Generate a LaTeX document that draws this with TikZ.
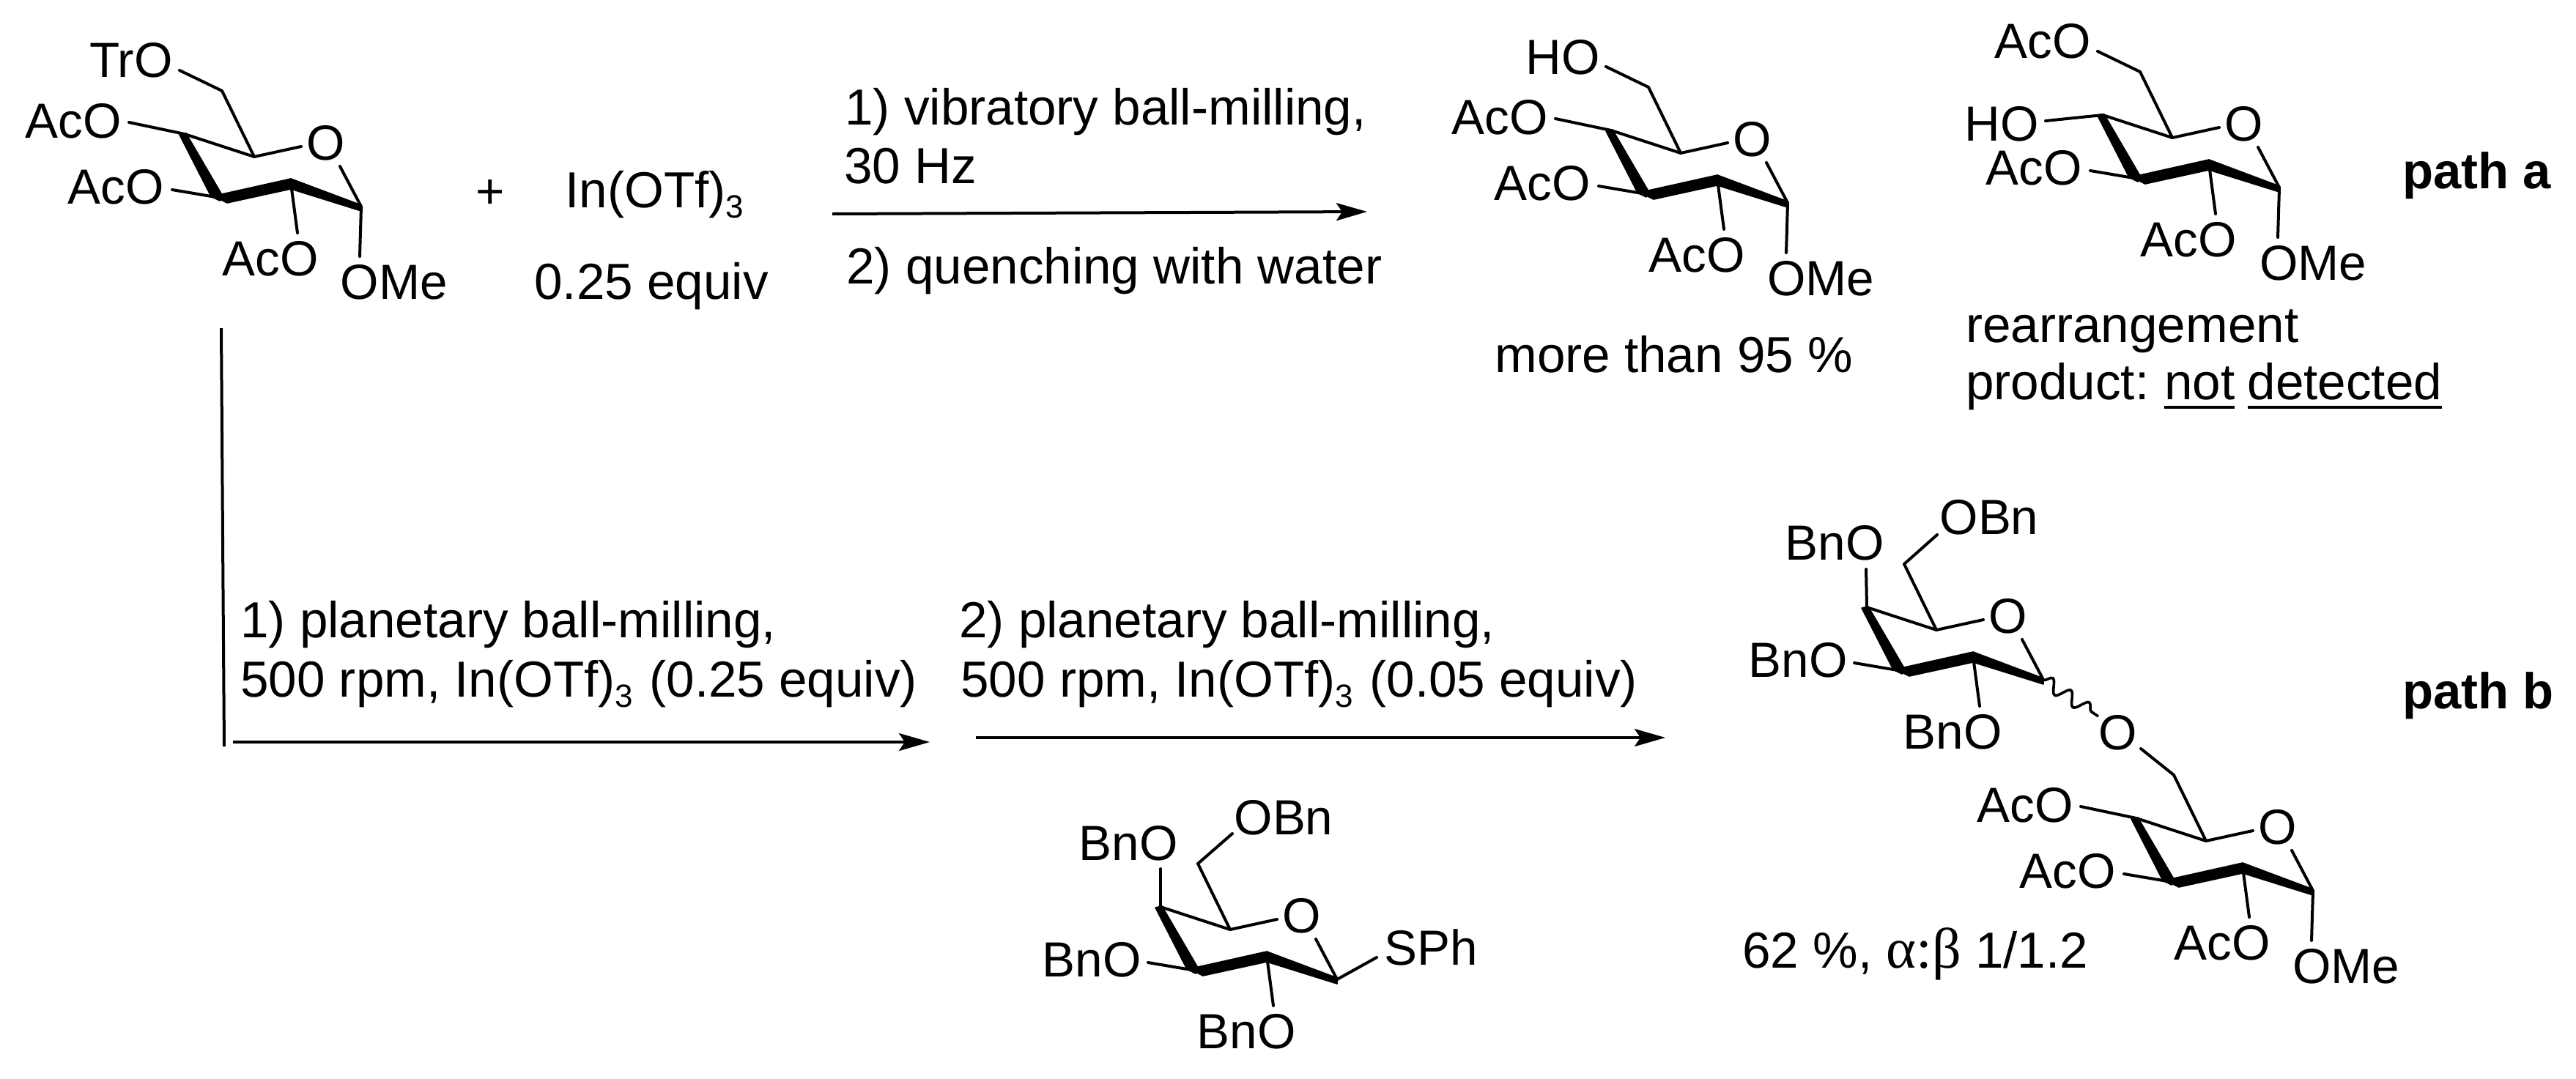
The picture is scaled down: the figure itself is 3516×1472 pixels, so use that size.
\documentclass[tikz,border=0pt]{standalone}
\usepackage{fontspec}
\setmainfont{Liberation Sans}
\newfontfamily\grkfont{Liberation Serif}
\usetikzlibrary{arrows.meta,decorations.pathmorphing}
\newcommand\subthree{\lower7pt\hbox{\fontsize{22}{24}\selectfont 3}\kern1.5pt}
\newcommand\ulw[1]{\vtop{\hbox{#1}\kern4pt\hrule height 2pt}}
\tikzset{
  bond/.style={line width=2pt,line cap=round,line join=round,black},
  band/.style={fill=black,draw=black,line width=0.8pt,line join=round},
  atom/.style={inner sep=0pt,font=\fontsize{33.7}{40}\selectfont},
  txt/.style={anchor=base west,inner sep=0pt,font=\fontsize{34.6}{40}\selectfont},
  btxt/.style={txt,font=\fontsize{34.4}{40}\selectfont\bfseries},
  rxn/.style={line width=2pt,-{Stealth[length=21pt,width=12pt,inset=4pt]}},
  wavy/.style={line width=1.8pt,decorate,decoration={snake,segment length=15pt,amplitude=4.5pt}}
}
% prefix, dx, dy, label at C3, label at C2
\newcommand\sugar[5]{%
  \begin{scope}[shift={(#2,#3)}]
    \coordinate (#1C6) at (303,124);
    \coordinate (#1C5) at (347,214);
    \coordinate (#1Oa) at (411,200);
    \coordinate (#1Ob) at (464,227);
    \coordinate (#1C1) at (493,282);
    \coordinate (#1C2) at (397,250);
    \coordinate (#1C3) at (300,270);
    \coordinate (#1C4) at (252,183);
    \coordinate (#1e6) at (245,96);
    \coordinate (#1e4) at (176,167);
    \coordinate (#1e3) at (235,259);
    \coordinate (#1e2) at (406,318);
    \coordinate (#1e1) at (491,350);
    \node[atom] (#1O) at (445,195) {O};
    \node[atom] (#1L3) at (158,255) {#4};
    \node[atom] (#1L2) at (369,353) {#5};
    \fill[band] (245,184) -- (254,182) -- (303,266) -- (300,274) -- (288,268) -- cycle;
    \fill[band] (303,265) -- (397,244) -- (397,258) -- (310,277) -- (300,272) -- cycle;
    \fill[band] (397,244) -- (493,280) -- (493,288) -- (397,258) -- cycle;
    \draw[bond] (#1C4) -- (#1C5) -- (#1Oa);
    \draw[bond] (#1C5) -- (#1C6);
    \draw[bond] (#1Ob) -- (#1C1);
    \draw[bond] (#1C3) -- (#1e3);
    \draw[bond] (#1C2) -- (#1e2);
  \end{scope}}
\begin{document}
\begin{tikzpicture}[x=0.5pt,y=-0.5pt]
\useasboundingbox (0,0) rectangle (3516,1472);
\fill[white] (0,0) rectangle (3516,1472);

% starting material
\sugar{a}{0}{0}{AcO}{AcO}
\node[atom] (aL6) at (179,82) {TrO};
\node[atom] (aL4) at (100,165) {AcO};
\node[atom] (aL1) at (538,385) {OMe};
\draw[bond] (aC6) -- (ae6);
\draw[bond] (aC4) -- (ae4);
\draw[bond] (aC1) -- (ae1);

\node[atom] (plus) at (669,265) {+};
\node[txt] (inotf) at (771,283) {In(OTf)\subthree};
\node[txt] (eq) at (729,408) {0.25 equiv};

% path a arrow
\coordinate (ra1) at (1136,292);
\coordinate (ra2) at (1866,289);
\draw[rxn] (ra1) -- (ra2);
\node[txt] (ra3) at (1153,170) {1) vibratory ball-milling,};
\node[txt] (ra4) at (1152,250) {30 Hz};
\node[txt] (ra5) at (1155,387) {2) quenching with water};

% product 6-OH
\sugar{b}{1947}{-5}{AcO}{AcO}
\node[atom] (bL6) at (2133,78) {HO};
\node[atom] (bL4) at (2047,160) {AcO};
\node[atom] (bL1) at (2485,380) {OMe};
\draw[bond] (bC6) -- (be6);
\draw[bond] (bC4) -- (be4);
\draw[bond] (bC1) -- (be1);
\node[txt] (byield) at (2040,508) {more than 95 \%};

% rearrangement product
\sugar{c}{2618}{-26}{AcO}{AcO}
\node[atom] (cL6) at (2788,56) {AcO};
\node[atom] (cL4) at (2732,169) {HO};
\node[atom] (cL1) at (3157,359) {OMe};
\coordinate (ce4b) at (2792,165);
\draw[bond] (cC6) -- (ce6);
\draw[bond] (cC4) -- (ce4b);
\draw[bond] (cC1) -- (ce1);
\node[txt] (cnote1) at (2683,467) {rearrangement};
\node[txt] (cnote2) at (2683,545) {product:\kern-2.5pt{} \ulw{not}\kern-1pt{} \ulw{detected}};
\node[btxt] (patha) at (3279,257) {path a};

% path b
\coordinate (v1) at (302,448);
\coordinate (v2) at (306,1019);
\draw[line width=2pt] (v1) -- (v2);
\coordinate (rb1) at (318,1013);
\coordinate (rb2) at (1269,1013);
\draw[rxn] (rb1) -- (rb2);
\node[txt] (rb3) at (328,870) {1) planetary ball-milling,};
\node[txt] (rb4) at (328,951) {500 rpm, In(OTf)\subthree{} (0.25 equiv)};
\coordinate (rc1) at (1332,1007);
\coordinate (rc2) at (2273,1007);
\draw[rxn] (rc1) -- (rc2);
\node[txt] (rc3) at (1309,870) {2) planetary ball-milling,};
\node[txt] (rc4) at (1311,951) {500 rpm, In(OTf)\subthree{} (0.05 equiv)};

% thioglycoside donor
\sugar{d}{1332}{1055}{BnO}{BnO}
\node[atom] (dL6) at (1752,1116) {OBn};
\node[atom] (dL4) at (1540,1151) {BnO};
\node[atom] (dL1) at (1953,1293) {SPh};
\coordinate (de6b) at (1682,1138);
\coordinate (de4b) at (1584,1186);
\coordinate (de1b) at (1879,1307);
\draw[bond] (dC6) -- (de6b);
\draw[bond] (dC4) -- (de4b);
\draw[bond] (dC1) -- (de1b);

% disaccharide
\sugar{e}{2296}{646}{BnO}{BnO}
\node[atom] (eL6) at (2715,706) {OBn};
\node[atom] (eL4) at (2504,741) {BnO};
\coordinate (ee6b) at (2644,730);
\coordinate (ee4b) at (2547,777);
\coordinate (ewv) at (2864,978);
\draw[bond] (eC6) -- (ee6b);
\draw[bond] (eC4) -- (ee4b);
\draw[wavy] (eC1) -- (ewv);
\node[atom] (link) at (2891,1000) {O};

\sugar{f}{2664}{934}{AcO}{AcO}
\node[atom] (fL4) at (2764,1099) {AcO};
\node[atom] (fL1) at (3202,1319) {OMe};
\coordinate (fe6b) at (2922,1022);
\draw[bond] (fC6) -- (fe6b);
\draw[bond] (fC4) -- (fe4);
\draw[bond] (fC1) -- (fe1);
\node[txt] (fyield) at (2378,1321) {62 \%, {\grkfont\fontsize{39}{40}\selectfont α:β} 1/1.2};
\node[btxt] (pathb) at (3279,967) {path b};
\end{tikzpicture}
\end{document}
